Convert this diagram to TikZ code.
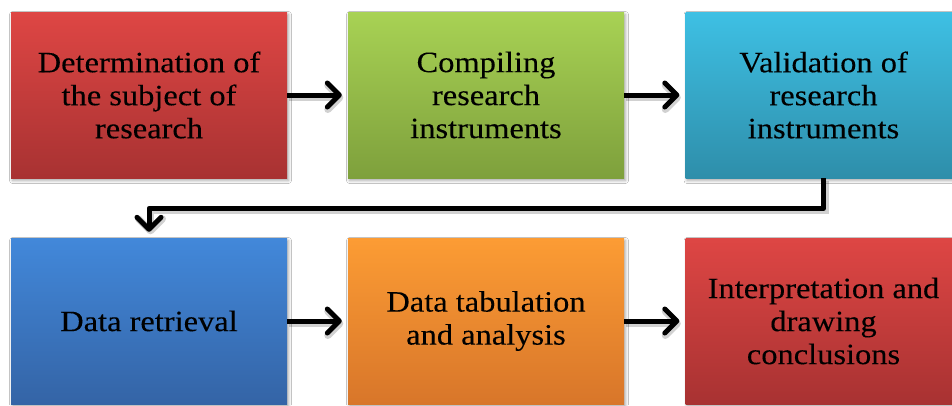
\documentclass[tikz,border=0pt]{standalone}
\usepackage{fontspec}
\setmainfont[FakeStretch=1.1, FakeBold=0.15]{Liberation Serif}
\usetikzlibrary{arrows.meta,shadows.blur,calc}

\definecolor{redT}{RGB}{222,70,68}
\definecolor{redB}{RGB}{168,50,50}
\definecolor{greenT}{RGB}{168,210,84}
\definecolor{greenB}{RGB}{126,160,60}
\definecolor{cyanT}{RGB}{62,192,228}
\definecolor{cyanB}{RGB}{46,142,170}
\definecolor{blueT}{RGB}{66,136,218}
\definecolor{blueB}{RGB}{52,100,166}
\definecolor{orangeT}{RGB}{252,156,52}
\definecolor{orangeB}{RGB}{216,118,42}

\tikzset{
  stepbox/.style={rectangle, minimum width=276pt, minimum height=166pt,
    inner sep=0pt, align=center, text=black,
    font=\fontsize{29.5}{33}\selectfont,
    blur shadow={shadow xshift=1.5pt, shadow yshift=-2.5pt,
      shadow blur radius=3pt, shadow opacity=35}},
  flow/.style={line width=5pt, draw=black, line join=round,
    -{Straight Barb[length=12pt, width=24pt, line cap=round, line join=round]},
    preaction={draw=black, draw opacity=0.18, line width=7pt,
      transform canvas={shift={(1.5pt,-2.5pt)}}}},
}

\begin{document}
\begin{tikzpicture}[x=1pt, y=-1pt]
  \useasboundingbox (0,0) rectangle (952,405);
  \clip (0,0) rectangle (952,405);
  \fill[white] (0,0) rectangle (952,405);

  % top row
  \node[stepbox, top color=redT, bottom color=redB] (b1) at (149,95)
    {Determination of\\the subject of\\research};
  \node[stepbox, top color=greenT, bottom color=greenB] (b2) at (486,95)
    {Compiling\\research\\instruments};
  \node[stepbox, top color=cyanT, bottom color=cyanB] (b3) at (823.5,95)
    {Validation of\\research\\instruments};

  % bottom row
  \node[stepbox, top color=blueT, bottom color=blueB] (b4) at (149,321)
    {Data retrieval};
  \node[stepbox, top color=orangeT, bottom color=orangeB] (b5) at (486,321)
    {Data tabulation\\and analysis};
  \node[stepbox, top color=redT, bottom color=redB] (b6) at (823.5,321)
    {Interpretation and\\drawing\\conclusions};

  % connectors
  \draw[flow, shorten >=6pt] (b1.east) -- (b2.west);
  \draw[flow, shorten >=6pt] (b2.east) -- (b3.west);
  \draw[flow, shorten >=6pt] (b3.south) -- ++(0,30) -| (b4.north);
  \draw[flow, shorten >=6pt] (b4.east) -- (b5.west);
  \draw[flow, shorten >=6pt] (b5.east) -- (b6.west);
\end{tikzpicture}
\end{document}
